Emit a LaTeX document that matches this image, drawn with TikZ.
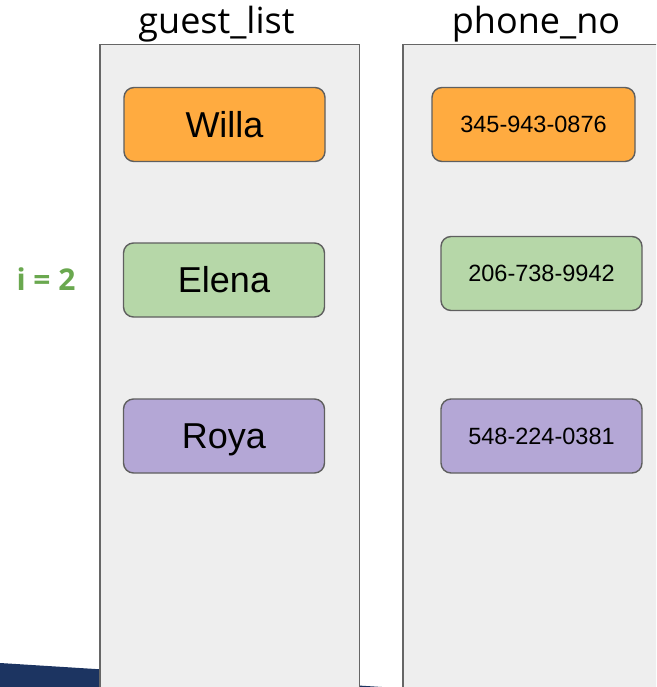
\documentclass[tikz,border=0pt]{standalone}
\usepackage{fontspec}
\setmainfont{Liberation Sans}
\newfontfamily\osans{Open Sans}
\definecolor{navyband}{HTML}{1C3461}
\definecolor{colfill}{HTML}{EEEEEE}
\definecolor{colline}{HTML}{666666}
\definecolor{boxline}{HTML}{5F5F5F}
\definecolor{orangefill}{HTML}{FFAB40}
\definecolor{greenfill}{HTML}{B6D7A8}
\definecolor{purplefill}{HTML}{B4A7D6}
\definecolor{igreen}{HTML}{6AA84F}
\tikzset{
  colbox/.style={fill=colfill, draw=colline, line width=1.5pt},
  namebox/.style={draw=boxline, line width=1.4pt, rounded corners=10pt, minimum width=201pt, minimum height=74pt, inner sep=0pt, font=\fontsize{36}{40}\selectfont, text height=25.8pt, text depth=0pt},
  phonebox/.style={draw=boxline, line width=1.4pt, rounded corners=10pt, minimum width=201pt, minimum height=74pt, inner sep=0pt, font=\fontsize{23.5}{26}\selectfont, text height=16.8pt, text depth=0pt},
  title/.style={anchor=base, inner sep=0pt, font=\osans\fontsize{36}{40}\selectfont}
}
\begin{document}
\begin{tikzpicture}[x=1pt,y=-1pt]
\useasboundingbox (0,0) rectangle (656,687);
\begin{scope}
\clip (0,0) rectangle (656,687);
\fill[navyband] (0,663) -- (406,688.5) -- (0,688.5) -- cycle;
\draw[colbox] (100,44.5) rectangle (359.5,700);
\draw[colbox] (403,44.5) rectangle (675,700);
\end{scope}
\node[title] (t1) at (216.5,34) {guest\_list};
\node[title] (t2) at (536,34) {phone\_no};
\node[anchor=base, inner sep=0pt, text=igreen, font=\osans\bfseries\fontsize{30}{34}\selectfont] (idx) at (46,290) {i = 2};
\node[namebox, fill=orangefill] (willa) at (224.5,124.5) {Willa};
\node[namebox, fill=greenfill] (elena) at (224,280) {Elena};
\node[namebox, fill=purplefill] (roya) at (224,436) {Roya};
\node[phonebox, fill=orangefill, minimum width=203pt] (p1) at (533.5,124.5) {345-943-0876};
\node[phonebox, fill=greenfill] (p2) at (541.5,273.5) {206-738-9942};
\node[phonebox, fill=purplefill] (p3) at (541.5,436) {548-224-0381};
\end{tikzpicture}
\end{document}
